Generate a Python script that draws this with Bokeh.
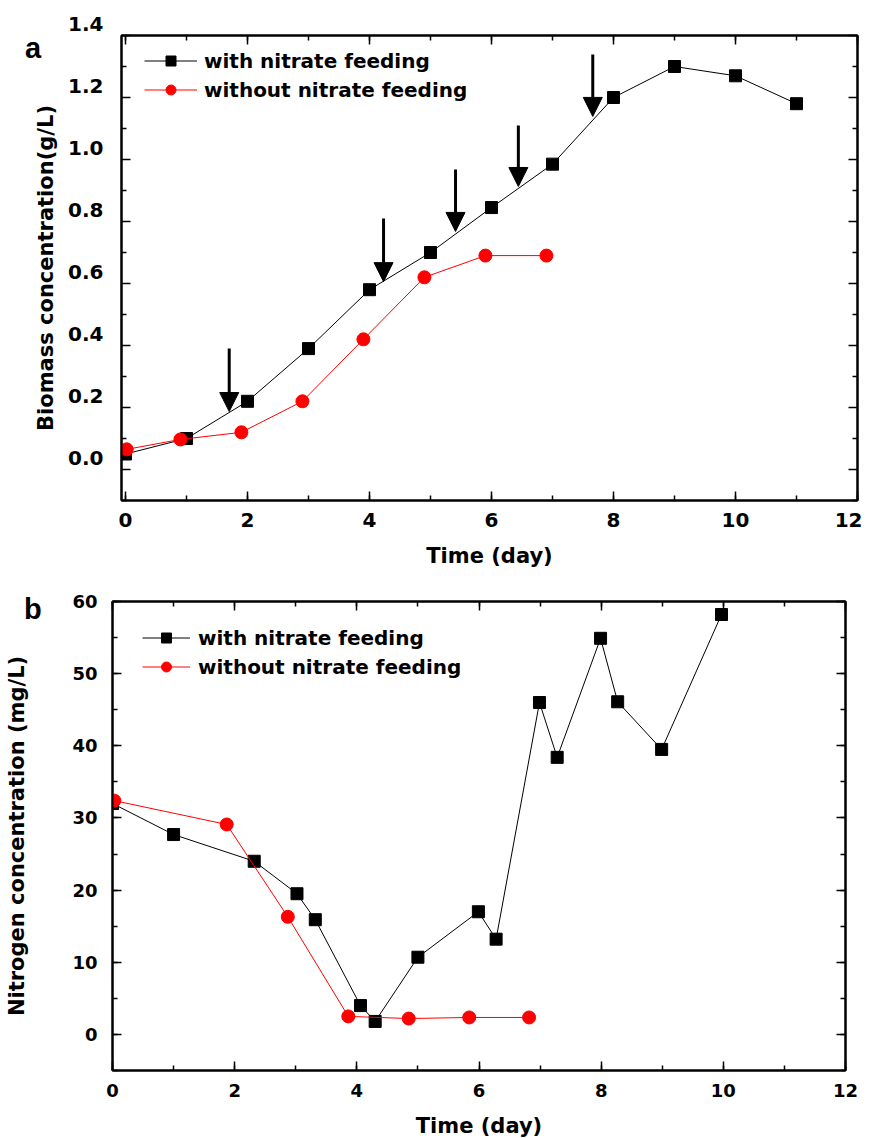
from bokeh.plotting import figure
from bokeh.models import (Range1d, LinearAxis, SingleIntervalTicker, FixedTicker,
                          Legend, LegendItem, Arrow, NormalHead, ColumnDataSource, Div,
                          CustomJSTickFormatter)
from bokeh.embed import file_html
from bokeh.resources import INLINE

FONT = "DejaVu Sans"

# ---------------- Panel a : biomass ----------------
time_with_a = [0, 1, 2, 3, 4, 5, 6, 7, 8, 9, 10, 11]
biomass_with = [0.05, 0.10, 0.22, 0.39, 0.58, 0.70, 0.845, 0.985, 1.20, 1.30, 1.27, 1.18]
time_without_a = [0.02, 0.9, 1.9, 2.9, 3.9, 4.9, 5.9, 6.9]
biomass_without = [0.065, 0.097, 0.12, 0.22, 0.42, 0.62, 0.69, 0.69]
feed_time = [1.70, 4.23, 5.41, 6.44, 7.66]
arrow_top = [0.39, 0.81, 0.968, 1.11, 1.339]
arrow_tip = [0.187, 0.606, 0.768, 0.913, 1.139]
biomass_ticks = [0.0, 0.2, 0.4, 0.6, 0.8, 1.0, 1.2, 1.4]
biomass_minor = [-0.1, 0.1, 0.3, 0.5, 0.7, 0.9, 1.1, 1.3]

# ---------------- Panel b : nitrogen ----------------
time_with_b = [0.0, 1.0, 2.32, 3.02, 3.32, 4.06, 4.30, 5.0, 5.99, 6.28, 6.99, 7.28, 7.99, 8.27, 8.99, 9.97]
nitrogen_with = [32.0, 27.7, 24.0, 19.5, 15.9, 4.0, 1.8, 10.7, 17.0, 13.2, 46.0, 38.4, 54.9, 46.1, 39.5, 58.2]
time_without_b = [0.03, 1.87, 2.87, 3.86, 4.85, 5.84, 6.82]
nitrogen_without = [32.4, 29.1, 16.3, 2.5, 2.2, 2.35, 2.35]

labels = ["with nitrate feeding", "without nitrate feeding"]


def style_axis(ax, show_labels, tick_size):
    ax.axis_line_width = 2
    ax.axis_line_color = "black"
    ax.major_tick_in = 9
    ax.major_tick_out = 0
    ax.minor_tick_in = 5
    ax.minor_tick_out = 0
    ax.major_tick_line_width = 1.5
    ax.minor_tick_line_width = 1.5
    ax.major_label_text_font = FONT
    ax.major_label_text_font_style = "bold"
    ax.major_label_text_color = "black"
    ax.major_label_text_font_size = tick_size
    ax.axis_label_text_font = FONT
    ax.axis_label_text_font_style = "bold"
    ax.axis_label_text_font_size = "21px"
    ax.axis_label_text_color = "black"
    if not show_labels:
        ax.formatter = CustomJSTickFormatter(code="return ''")
        ax.major_label_text_font_size = "0px"
        ax.major_label_standoff = 0


def make_panel(xr, yr, xticker, yticker_fn, yformatter, fw, fh, bl, br, bt, bb, tick_size):
    p = figure(frame_width=fw, frame_height=fh, x_range=xr, y_range=yr,
               output_backend="svg", toolbar_location=None,
               min_border_left=bl, min_border_right=br, min_border_top=bt, min_border_bottom=bb)
    p.grid.visible = False
    p.outline_line_color = "black"
    p.outline_line_width = 2
    p.background_fill_color = "white"
    p.border_fill_color = "white"
    bottom = p.below[0]
    left = p.left[0]
    bottom.ticker = SingleIntervalTicker(interval=xticker, num_minor_ticks=2)
    left.ticker = yticker_fn()
    if yformatter is not None:
        left.formatter = yformatter
    style_axis(bottom, True, tick_size)
    style_axis(left, True, tick_size)
    top = LinearAxis(ticker=SingleIntervalTicker(interval=xticker, num_minor_ticks=2))
    right = LinearAxis(ticker=yticker_fn())
    style_axis(top, False, tick_size)
    style_axis(right, False, tick_size)
    p.add_layout(top, "above")
    p.add_layout(right, "right")
    return p, bottom, left


def add_series(p, xw, yw, xo, yo, legend_x, legend_y, glyph_w, standoff):
    lw = p.line(xw, yw, line_color="black", line_width=1)
    sw = p.scatter(xw, yw, marker="square", size=12, fill_color="black", line_color="black")
    lo = p.line(xo, yo, line_color="#ff0000", line_width=1)
    so = p.scatter(xo, yo, marker="circle", size=13, fill_color="#ff0000", line_color="#ff0000")
    leg = Legend(items=[LegendItem(label=labels[0], renderers=[lw, sw]),
                        LegendItem(label=labels[1], renderers=[lo, so])],
                 location=(legend_x, legend_y))
    leg.label_text_font = FONT
    leg.label_text_font_style = "bold"
    leg.label_text_font_size = "20px"
    leg.label_text_color = "black"
    leg.glyph_width = glyph_w
    leg.glyph_height = 25
    leg.label_height = 25
    leg.spacing = 4
    leg.padding = 0
    leg.margin = 0
    leg.label_standoff = standoff
    leg.border_line_color = None
    leg.background_fill_alpha = 0
    p.add_layout(leg)


def panel_letter(text, left, top):
    return Div(text=text, width=30, height=36,
               styles={"position": "absolute", "left": f"{left}px", "top": f"{top}px",
                       "font-family": "Liberation Sans", "font-weight": "bold",
                       "font-size": "29px", "line-height": "1", "z-index": "10",
                       "color": "black"})


# ---- figure a ----
# labels of panel a sit slightly above their ticks in the original
fmt_a = CustomJSTickFormatter(code="return tick.toFixed(1) + '\\n '")
pa, pa_x, pa_y = make_panel(Range1d(-0.066, 12.0), Range1d(-0.1, 1.4), 2,
                            lambda: FixedTicker(ticks=biomass_ticks, minor_ticks=biomass_minor),
                            fmt_a, 736, 465, 121, 5, 35, 75, "20px")
pa_y.major_label_text_line_height = 0.95
pa_x.axis_label = "Time (day)"
pa_y.axis_label = "Biomass concentration(g/L)"
pa_y.major_label_standoff = 18
pa_y.axis_label_standoff = 7
pa_x.major_label_standoff = 12
pa_x.axis_label_standoff = 14
add_series(pa, time_with_a, biomass_with, time_without_a, biomass_without, 23, 398, 53, 7)
arrows = ColumnDataSource(dict(x=feed_time, y0=arrow_top, y1=arrow_tip))
pa.add_layout(Arrow(end=NormalHead(size=19, fill_color="black", line_color="black"),
                    x_start="x", y_start="y0", x_end="x", y_end="y1", source=arrows,
                    line_width=3, line_color="black"))

# ---- figure b ----
pb, pb_x, pb_y = make_panel(Range1d(0, 12.0), Range1d(-5, 60), 2,
                            lambda: SingleIntervalTicker(interval=10, num_minor_ticks=2),
                            None, 733, 469, 112, 17, 26, 68, "18px")
pb_x.axis_label = "Time (day)"
pb_y.axis_label = "Nitrogen concentration (mg/L)"
pb_y.major_label_standoff = 15
pb_y.axis_label_standoff = 40
pb_x.major_label_standoff = 13
pb_x.axis_label_standoff = 14
add_series(pb, time_with_b, nitrogen_with, time_without_b, nitrogen_without, 30, 391, 48, 8)

div_a = panel_letter("a", 20, 29)
div_b = panel_letter("b", 19, 590)

open("out.html", "w").write(file_html([pa, pb, div_a, div_b], INLINE))
